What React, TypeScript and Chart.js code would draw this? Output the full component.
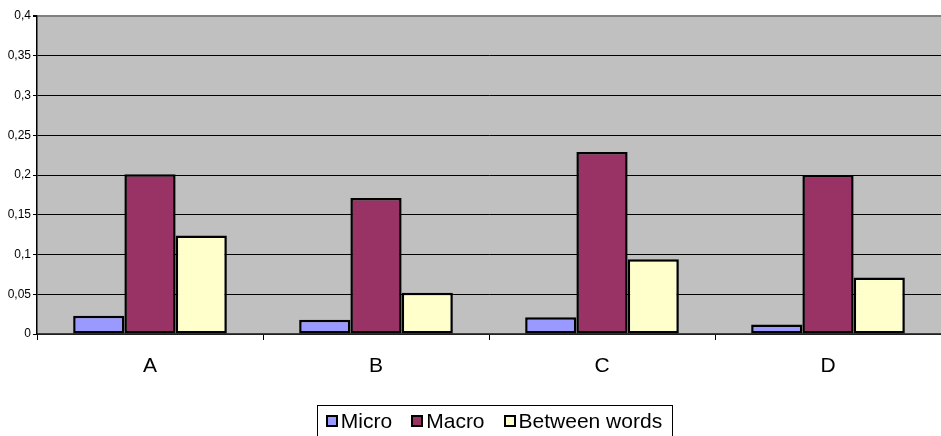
import React, { useEffect, useRef } from "react";
import { Chart, registerables } from "chart.js";

Chart.register(...registerables);

const categories = ["A", "B", "C", "D"];
const seriesNames = ["Micro", "Macro", "Between words"];
const microValues = [0.023, 0.018, 0.021, 0.012];
const macroValues = [0.201, 0.171, 0.229, 0.2];
const betweenValues = [0.124, 0.052, 0.094, 0.071];
const seriesColors = ["#9999FF", "#993366", "#FFFFCC"];

const FONT = 'Arial, "Liberation Sans", sans-serif';

const plotBg = {
  id: "plotBg",
  beforeDraw(chart: any) {
    const { ctx, chartArea } = chart;
    ctx.save();
    ctx.fillStyle = "#C0C0C0";
    ctx.fillRect(chartArea.left, chartArea.top, chartArea.right - chartArea.left, chartArea.bottom - chartArea.top);
    ctx.restore();
  },
};

const boxLegend = {
  id: "boxLegend",
  afterDraw(chart: any) {
    const { ctx } = chart;
    const ds = chart.data.datasets;
    ctx.save();
    ctx.font = `21px ${FONT}`;
    const sw = 10;
    const gapSwText = 4;
    const gapItems = 20;
    const widths = ds.map((d: any) => ctx.measureText(d.label).width);
    let total = 0;
    widths.forEach((w: number, i: number) => {
      total += sw + gapSwText + w + (i < widths.length - 1 ? gapItems : 0);
    });
    const centerX = 494.5;
    const boxW = Math.round(total + 20);
    const boxLeft = Math.round(centerX - boxW / 2) + 0.5;
    const boxTop = 405.5;
    ctx.strokeStyle = "#000";
    ctx.lineWidth = 1;
    ctx.strokeRect(boxLeft, boxTop, boxW, 60);
    let x = centerX - total / 2;
    const cy = 421;
    ds.forEach((d: any, i: number) => {
      ctx.fillStyle = d.backgroundColor;
      ctx.fillRect(Math.round(x), cy - 5, sw, sw);
      ctx.lineWidth = 2;
      ctx.strokeStyle = "#000";
      ctx.strokeRect(Math.round(x), cy - 5, sw, sw);
      x += sw + gapSwText;
      ctx.fillStyle = "#000";
      ctx.textBaseline = "middle";
      ctx.textAlign = "left";
      ctx.fillText(d.label, x, cy + 1);
      x += widths[i] + gapItems;
    });
    ctx.restore();
  },
};

export default function App() {
  const ref = useRef<HTMLCanvasElement | null>(null);

  useEffect(() => {
    document.body.style.margin = "0";
    const canvas = ref.current;
    if (!canvas) return;
    const valueSets = [microValues, macroValues, betweenValues];
    const chart = new Chart(canvas, {
      type: "bar",
      data: {
        labels: categories,
        datasets: seriesNames.map((name, i) => ({
          label: name,
          data: valueSets[i],
          backgroundColor: seriesColors[i],
          borderColor: "#000",
          borderWidth: 2.5,
          borderSkipped: false,
          categoryPercentage: 0.68,
          barPercentage: 1,
        })),
      },
      options: {
        responsive: false,
        animation: false,
        layout: { padding: { top: 16, right: 0, left: 0, bottom: 0 } },
        plugins: {
          legend: { display: false },
          tooltip: { enabled: false },
        },
        scales: {
          x: {
            grid: {
              offset: true,
              drawOnChartArea: false,
              drawTicks: true,
              tickLength: 6,
              color: "#000",
            },
            border: { color: "#404040", width: 1.5 },
            ticks: {
              color: "#000",
              font: { family: FONT, size: 21 },
              padding: 14,
            },
            afterFit(scale: any) {
              scale.height = 102;
            },
          },
          y: {
            min: 0,
            max: 0.4,
            ticks: {
              stepSize: 0.05,
              color: "#000",
              font: { family: FONT, size: 12 },
              padding: 2,
              callback: (v: any) => String(Math.round(Number(v) * 100) / 100).replace(".", ","),
            },
            grid: {
              color: (c: any) => (c.tick && Math.abs(c.tick.value - 0.4) < 1e-9 ? "#808080" : "#000"),
              lineWidth: (c: any) => (c.tick && Math.abs(c.tick.value - 0.4) < 1e-9 ? 2 : 1),
              tickLength: 4,
              tickColor: "#000",
            },
            border: { color: "#000", width: 1.5 },
            afterFit(scale: any) {
              scale.width = 37;
            },
          },
        },
      },
      plugins: [plotBg, boxLegend],
    });
    return () => chart.destroy();
  }, []);

  return (
    <div style={{ position: "absolute", left: 0, top: 0, width: 941, height: 436, background: "#fff" }}>
      <canvas ref={ref} width={941} height={436} style={{ display: "block" }} />
    </div>
  );
}
